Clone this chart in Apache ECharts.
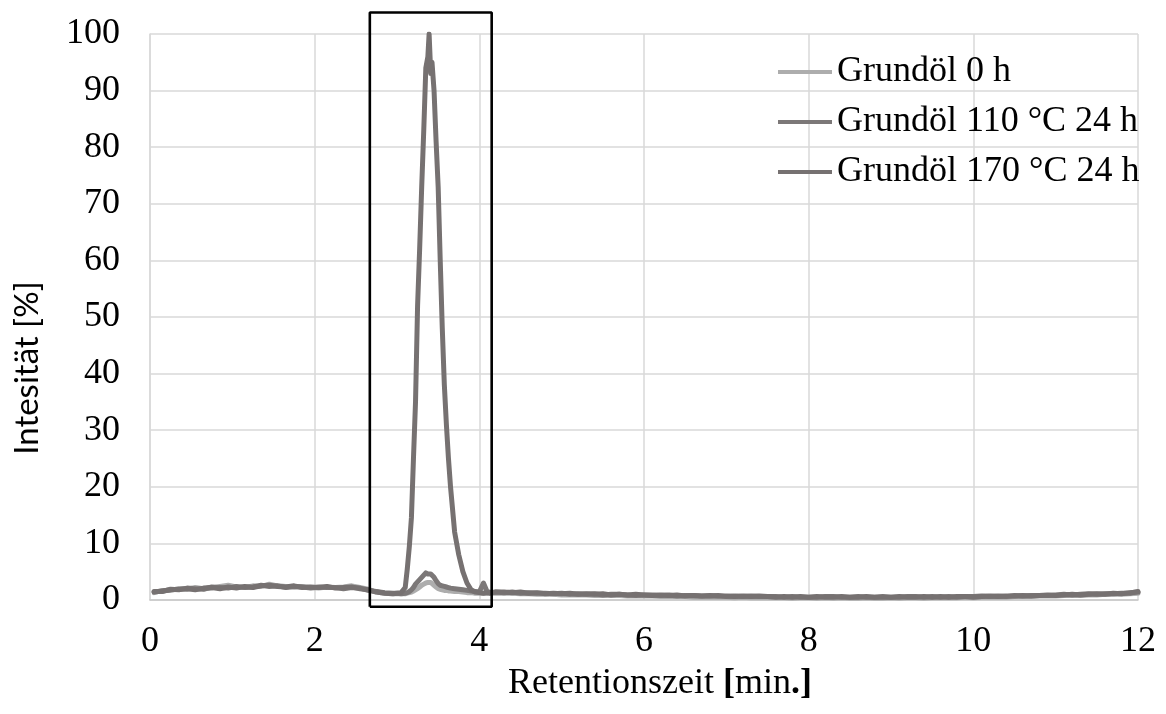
<!DOCTYPE html>
<html>
<head>
<meta charset="utf-8">
<script src="https://cdn.jsdelivr.net/npm/echarts@6.0.0/dist/echarts.min.js"></script>
<style>
  html, body { margin: 0; padding: 0; background: #fff; }
  #chart { width: 1166px; height: 714px; }
</style>
</head>
<body>
<div id="chart"></div>
<script>
// Retention time [min]
const retentionTimes = [
  0.05,0.15,0.25,0.35,0.45,0.55,0.65,0.75,0.85,0.95,1.05,1.15,1.25,1.35,1.45,
  1.55,1.65,1.75,1.85,1.95,2.05,2.15,2.25,2.35,2.45,2.55,2.65,2.75,2.85,2.95,
  3.00,3.05,3.10,3.125,3.15,3.175,3.20,3.225,3.25,3.275,3.30,3.325,3.35,3.375,3.39,
  3.41,3.425,3.45,3.475,3.50,3.525,3.55,3.575,3.60,3.625,3.65,3.70,3.75,3.80,3.85,
  3.90,3.95,4.00,4.05,4.10,4.125,4.15,4.20,
  4.3,4.4,4.5,4.6,4.7,4.8,4.9,5.0,5.1,5.2,5.3,5.4,5.5,5.6,5.7,5.8,5.9,6.0,6.1,6.2,
  6.3,6.4,6.5,6.6,6.7,6.8,6.9,7.0,7.1,7.2,7.3,7.4,7.5,7.6,7.7,7.8,7.9,8.0,8.1,8.2,
  8.3,8.4,8.5,8.6,8.7,8.8,8.9,9.0,9.1,9.2,9.3,9.4,9.5,9.6,9.7,9.8,9.9,10.0,10.1,10.2,
  10.3,10.4,10.5,10.6,10.7,10.8,10.9,11.0,11.1,11.2,11.3,11.4,11.5,11.6,11.7,11.8,11.9,12.0
];

// Intensity [%], Grundöl 0 h
const oil0h = [
  1.3,1.7,1.7,2.0,1.9,2.2,2.0,2.1,2.4,2.6,2.3,2.2,2.5,2.4,2.8,
  2.5,2.4,2.3,2.4,2.2,2.1,2.3,2.2,2.3,2.5,2.2,1.9,1.4,1.2,1.1,
  1.1,1.1,1.1,1.2,1.3,1.4,1.6,1.8,2.0,2.3,2.6,2.8,3.0,3.1,3.0,
  3.1,2.9,2.6,2.3,2.0,1.9,1.8,1.7,1.7,1.6,1.6,1.5,1.5,1.4,1.3,
  1.3,1.2,1.2,1.2,1.2,1.2,1.2,1.2,
  1.2,1.2,1.1,1.1,1.0,1.0,1.0,0.9,0.9,0.9,
  0.9,0.8,0.8,0.8,0.8,0.7,0.7,0.7,0.7,0.6,
  0.6,0.6,0.6,0.5,0.5,0.5,0.5,0.5,0.4,0.5,
  0.4,0.4,0.4,0.4,0.4,0.3,0.4,0.4,0.3,0.4,
  0.3,0.4,0.3,0.3,0.4,0.3,0.3,0.4,0.3,0.4,
  0.4,0.3,0.4,0.4,0.4,0.4,0.5,0.4,0.5,0.5,
  0.5,0.5,0.6,0.6,0.6,0.7,0.7,0.7,0.8,0.8,
  0.8,0.9,0.9,1.0,1.0,1.0,1.1,1.2
];

// Intensity [%], Grundöl 110 °C 24 h
const oil110 = [
  1.5,1.5,1.9,1.8,2.1,2.0,1.9,2.3,2.2,2.1,2.4,2.2,2.3,2.6,2.4,
  2.5,2.2,2.4,2.3,2.1,2.3,2.2,2.2,2.0,2.2,2.1,1.7,1.5,1.3,1.2,
  1.2,1.1,1.2,1.3,1.5,1.8,2.2,2.8,3.2,3.6,4.0,4.4,4.8,4.6,4.3,
  4.6,4.5,4.0,3.4,2.9,2.6,2.5,2.4,2.3,2.2,2.1,2.0,1.9,1.8,1.7,
  1.6,1.5,1.4,3.0,1.3,1.4,1.3,1.4,
  1.3,1.4,1.2,1.3,1.2,1.2,1.1,1.2,1.0,1.1,
  1.0,1.1,0.9,1.0,1.0,0.9,0.8,0.9,0.9,0.8,
  0.9,0.7,0.8,0.8,0.7,0.7,0.8,0.6,0.7,0.6,
  0.7,0.6,0.6,0.6,0.5,0.6,0.5,0.5,0.5,0.6,
  0.6,0.5,0.5,0.6,0.5,0.5,0.6,0.5,0.5,0.6,
  0.6,0.5,0.6,0.5,0.6,0.5,0.6,0.6,0.7,0.6,
  0.7,0.6,0.8,0.7,0.8,0.8,0.8,0.9,1.0,0.9,
  1.0,1.1,1.0,1.1,1.1,1.2,1.2,1.5
];

// Intensity [%], Grundöl 170 °C 24 h
const oil170 = [
  1.4,1.6,1.8,1.9,2.0,1.8,2.1,2.2,2.0,2.3,2.1,2.4,2.2,2.5,2.6,
  2.4,2.3,2.5,2.2,2.3,2.2,2.4,2.1,2.2,2.3,2.0,1.8,1.4,1.2,1.1,
  1.2,1.3,2.2,5.5,9.5,14.5,25,35,52,62,73,83,94,96,100,
  93,95,90,81,73,60,48,38,31,25,20,12,8,5,3,
  1.8,1.4,1.3,1.2,1.3,1.2,1.3,1.4,
  1.4,1.3,1.4,1.2,1.3,1.1,1.2,1.1,1.2,1.0,
  1.1,1.0,1.1,0.9,1.0,0.9,1.0,0.9,0.8,0.9,
  0.8,0.9,0.7,0.8,0.7,0.8,0.7,0.7,0.6,0.7,
  0.6,0.7,0.6,0.5,0.6,0.5,0.6,0.5,0.6,0.5,
  0.5,0.6,0.5,0.5,0.6,0.5,0.5,0.5,0.6,0.5,
  0.5,0.6,0.5,0.6,0.5,0.6,0.6,0.5,0.6,0.7,
  0.6,0.7,0.7,0.8,0.7,0.8,0.9,0.8,0.9,1.0,
  0.9,1.0,1.1,1.0,1.2,1.1,1.3,1.4
];

const seriesNames = ['Grundöl 0 h', 'Grundöl 110 °C 24 h', 'Grundöl 170 °C 24 h'];
const seriesColors = ['#ADADAD', '#7C7878', '#767171'];

// Highlight frame around the peak region (time, intensity)
const frameCorners = [[2.67, -1.2], [2.67, 103.8], [4.15, 103.8], [4.15, -1.2], [2.67, -1.2]];

const xTicks = { min: 0, max: 12, interval: 2 };
const yTicks = { min: 0, max: 100, interval: 10 };

const pairs = (vals) => retentionTimes.map((t, i) => [t, vals[i]]);

const serif = '"Liberation Serif", "Times New Roman", serif';
const chart = echarts.init(document.getElementById('chart'), null, { renderer: 'canvas' });

const lineSeries = [oil0h, oil110, oil170].map((vals, i) => ({
  name: seriesNames[i],
  type: 'line',
  data: pairs(vals),
  symbol: 'none',
  smooth: false,
  lineStyle: { color: seriesColors[i], width: 5, join: 'round', cap: 'round' },
  itemStyle: { color: seriesColors[i] },
  z: 2 + i
}));

chart.setOption({
  animation: false,
  backgroundColor: '#ffffff',
  grid: { left: 150, right: 28, top: 34, bottom: 114, containLabel: false },
  legend: {
    data: seriesNames,
    orient: 'vertical',
    left: 773,
    top: 49,
    icon: 'rect',
    itemWidth: 54,
    itemHeight: 4,
    itemGap: 14,
    textStyle: { fontFamily: serif, fontSize: 36, color: '#000', lineHeight: 36 }
  },
  xAxis: {
    type: 'value',
    min: xTicks.min, max: xTicks.max, interval: xTicks.interval,
    axisLine: { show: true, lineStyle: { color: '#c8c8c8', width: 1.5 } },
    axisTick: { show: false },
    splitLine: { show: true, lineStyle: { color: '#d9d9d9', width: 1.5 } },
    axisLabel: { fontFamily: serif, fontSize: 36, color: '#000', margin: 24 }
  },
  yAxis: {
    type: 'value',
    min: yTicks.min, max: yTicks.max, interval: yTicks.interval,
    axisLine: { show: true, lineStyle: { color: '#d9d9d9', width: 1.5 } },
    axisTick: { show: false },
    splitLine: { show: true, lineStyle: { color: '#d9d9d9', width: 1.5 } },
    axisLabel: { fontFamily: serif, fontSize: 36, color: '#000', margin: 30 }
  },
  graphic: [
    {
      type: 'text',
      x: 27, y: 368,
      rotation: Math.PI / 2,
      style: {
        text: 'Intesität [%]',
        fontFamily: 'Lato, "Open Sans", sans-serif',
        fontSize: 33,
        fill: '#000',
        textAlign: 'center',
        textVerticalAlign: 'middle'
      }
    },
    {
      type: 'text',
      x: 660, y: 684,
      style: {
        text: 'Retentionszeit {b|[}min{b|.]}',
        fontFamily: serif,
        fontSize: 36,
        fill: '#000',
        textAlign: 'center',
        textVerticalAlign: 'middle',
        rich: { b: { fontFamily: serif, fontSize: 36, fontWeight: 'bold', fill: '#000' } }
      }
    }
  ],
  series: lineSeries.concat([{
    name: 'frame',
    type: 'line',
    data: frameCorners,
    symbol: 'none',
    clip: false,
    silent: true,
    lineStyle: { color: '#000', width: 2.6 },
    z: 10
  }])
});
</script>
</body>
</html>
